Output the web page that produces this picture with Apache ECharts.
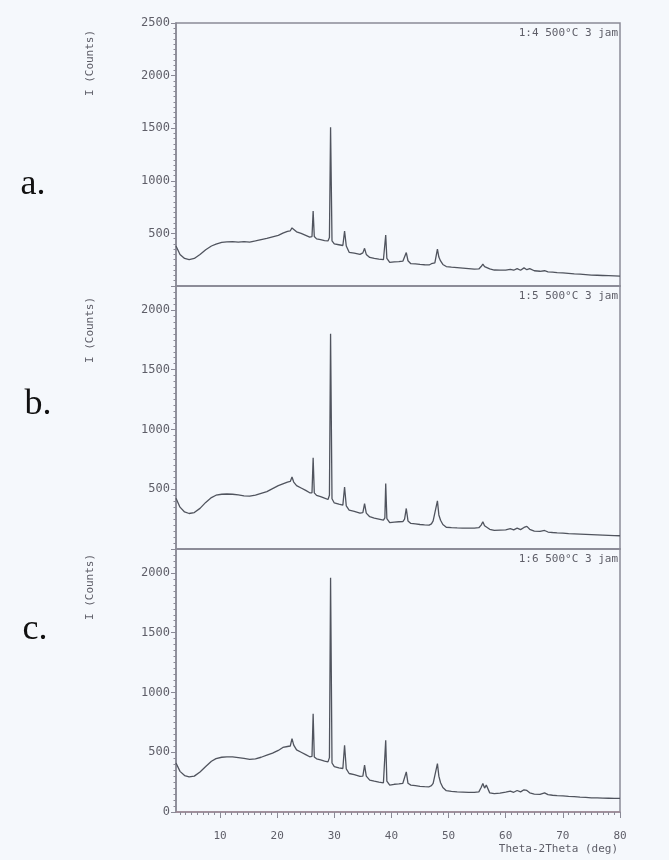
<!DOCTYPE html>
<html>
<head>
<meta charset="utf-8">
<script src="https://cdn.jsdelivr.net/npm/echarts@6/dist/echarts.min.js"></script>
<style>
  html, body { margin: 0; padding: 0; background: #f5f8fc; }
  #chart { width: 669px; height: 860px; }
</style>
</head>
<body>
<div id="chart"></div>
<script>
// 2-theta positions (deg) shared by the three diffractograms
const twoTheta = [
  2.3, 3.0, 3.8, 4.6, 5.5, 6.5, 7.5, 8.5, 9.3, 10.3,
  11.2, 12.2, 13.2, 14.2, 15.2, 16.2, 17.2, 18.2, 19.2, 20.2,
  21.0, 21.8, 22.3, 22.6, 22.9, 23.4, 24.2, 25.0, 25.7, 26.1,
  26.3, 26.5, 26.9, 27.6, 28.3, 28.9, 29.15, 29.35, 29.6, 30.0,
  30.8, 31.5, 31.8, 32.1, 32.6, 33.5, 34.5, 35.0, 35.3, 35.6,
  36.2, 37.0, 37.8, 38.6, 38.85, 39.0, 39.2, 39.7, 40.5, 41.3,
  42.0, 42.3, 42.6, 42.9, 43.4, 44.2, 45.0, 45.8, 46.6, 47.0,
  47.3, 47.6, 48.05, 48.3, 48.6, 49.0, 49.6, 50.5, 51.5, 52.5,
  53.5, 54.5, 55.3, 55.7, 56.0, 56.3, 56.6, 57.2, 58.0, 59.0,
  60.0, 60.8, 61.4, 62.0, 62.6, 63.2, 63.7, 64.2, 65.0, 66.0,
  66.8, 67.4, 68.2, 69.0, 70.0, 71.0, 72.0, 73.0, 74.0, 75.0,
  76.0, 77.0, 78.0, 79.0, 80.0
];

// Intensity (counts), sample 1:4
const counts14 = [
  380, 300, 262, 250, 262, 300, 345, 380, 398, 415,
  420, 422, 418, 422, 418, 428, 440, 452, 468, 482,
  502, 520, 525, 552, 540, 515, 500, 482, 465, 470,
  712, 470, 448, 440, 432, 428, 460, 1510, 430, 400,
  392, 385, 522, 380, 320, 312, 300, 315, 358, 300,
  272, 262, 255, 250, 262, 485, 262, 224, 230, 232,
  236, 250, 318, 240, 212, 210, 205, 202, 200, 212,
  228, 220, 350, 275, 238, 205, 185, 180, 175, 170,
  165, 160, 162, 185, 208, 185, 200, 162, 152, 150,
  150, 158, 150, 165, 150, 172, 155, 165, 145, 140,
  145, 135, 132, 128, 125, 120, 115, 112, 108, 104,
  102, 100, 98, 96, 94
];

// Intensity (counts), sample 1:5
const counts15 = [
  425, 350, 310, 297, 305, 340, 390, 430, 450, 458,
  460, 458, 452, 445, 442, 450, 465, 480, 505, 530,
  545, 560, 565, 602, 560, 530, 510, 490, 470, 470,
  764, 470, 448, 438, 425, 414, 450, 1800, 420, 385,
  375, 367, 519, 360, 325, 315, 300, 305, 380, 300,
  270, 258, 250, 242, 260, 547, 255, 220, 225, 228,
  230, 250, 339, 235, 214, 210, 205, 202, 200, 210,
  235, 225, 403, 285, 240, 205, 182, 178, 176, 175,
  174, 175, 178, 200, 228, 195, 205, 165, 155, 158,
  160, 170, 160, 175, 162, 180, 189, 165, 150, 147,
  155, 142, 138, 135, 132, 128, 126, 124, 122, 120,
  118, 116, 114, 112, 111
];

// Intensity (counts), sample 1:6
const counts16 = [
  410, 340, 305, 294, 300, 335, 380, 425, 447, 458,
  461, 461, 455, 448, 440, 445, 458, 475, 492, 515,
  540, 548, 552, 614, 560, 520, 500, 480, 462, 465,
  822, 460, 445, 435, 425, 419, 455, 1960, 410, 380,
  370, 364, 558, 360, 322, 312, 298, 300, 392, 300,
  267, 258, 250, 244, 258, 600, 258, 225, 232, 236,
  240, 255, 336, 240, 225, 220, 215, 212, 211, 220,
  240, 230, 405, 300, 245, 205, 178, 172, 168, 166,
  164, 164, 168, 205, 239, 200, 225, 160, 153, 158,
  167, 175, 165, 180, 168, 186, 180, 160, 150, 147,
  160, 145, 140, 137, 135, 130, 128, 124, 122, 118,
  118, 116, 115, 114, 114
];

const seriesCounts = [counts14, counts15, counts16];
const sampleLabels = ['1:4 500°C 3 jam', '1:5 500°C 3 jam', '1:6 500°C 3 jam'];
const panelLetters = ['a.', 'b.', 'c.'];
const yMaxValues = [2500, 2200, 2200];
const xTickValues = [10, 20, 30, 40, 50, 60, 70, 80];
const xAxisTitle = 'Theta-2Theta (deg)';
const yAxisTitle = 'I (Counts)';

const X_MIN = 2.3, X_MAX = 80;
const minorX = [];
for (let d = 3; d <= 80; d++) minorX.push(d);

const frameColor = '#8a8a96';
const textColor = '#5e5e68';
const mono = 'DejaVu Sans Mono';
const plain = v => String(v);

const panelTops = [23, 286, 549];
const panelHeight = 263;
const plotLeft = 176, plotWidth = 444;

const grids = [], xAxes = [], yAxes = [], series = [], graphics = [];

panelTops.forEach((top, i) => {
  const last = i === panelTops.length - 1;
  grids.push({
    left: plotLeft, top: top, width: plotWidth, height: panelHeight,
    show: true, borderColor: frameColor, borderWidth: 1.5,
    backgroundColor: 'transparent'
  });
  xAxes.push({
    type: 'value', gridIndex: i, min: X_MIN, max: X_MAX,
    axisLine: { show: true, onZero: false,
                lineStyle: { color: last ? '#a08a96' : frameColor, width: 1.5 } },
    axisTick: last
      ? { show: true, customValues: minorX, length: 3, lineStyle: { color: frameColor } }
      : { show: false },
    axisLabel: last
      ? { show: true, customValues: xTickValues, margin: 19, formatter: plain,
          fontFamily: mono, fontSize: 11, color: textColor }
      : { show: false },
    splitLine: { show: false }
  });
  yAxes.push({
    type: 'value', gridIndex: i, min: 0, max: yMaxValues[i], interval: 500,
    axisLine: { show: true, lineStyle: { color: frameColor, width: 1.5 } },
    axisTick: { show: true, length: 5, lineStyle: { color: frameColor } },
    minorTick: { show: true, splitNumber: 10, length: 2.5, lineStyle: { color: frameColor } },
    axisLabel: {
      margin: 6, formatter: plain, fontFamily: mono, fontSize: 12, color: textColor,
      showMinLabel: last, showMaxLabel: i === 0
    },
    splitLine: { show: false }
  });
  series.push({
    type: 'line', xAxisIndex: i, yAxisIndex: i,
    data: twoTheta.map((t, k) => [t, seriesCounts[i][k]]),
    showSymbol: false, smooth: false, silent: true,
    lineStyle: { color: '#50545e', width: 1.3 }
  });

  // sample caption in the upper-right corner of each panel
  graphics.push({
    type: 'text', x: plotLeft + plotWidth - 2, y: top + 10,
    style: { text: sampleLabels[i], fill: textColor, font: '11px "' + mono + '"',
             textAlign: 'right', textVerticalAlign: 'middle' }
  });
  // vertical intensity label
  graphics.push({
    type: 'text', x: 90, y: top + [40, 44, 38][i], rotation: Math.PI / 2,
    style: { text: yAxisTitle, fill: textColor, font: '11px "' + mono + '"',
             textAlign: 'center', textVerticalAlign: 'middle' }
  });
});

// major ticks every 10 degrees on the bottom axis
xAxes.push({
  type: 'value', gridIndex: 2, min: X_MIN, max: X_MAX, position: 'bottom',
  axisLine: { show: false },
  axisTick: { show: true, customValues: xTickValues, length: 6, lineStyle: { color: frameColor } },
  axisLabel: { show: false },
  splitLine: { show: false }
});

// panel letters
[[33, 185], [38, 405], [35, 630]].forEach((p, i) => {
  graphics.push({
    type: 'text', x: p[0], y: p[1],
    style: { text: panelLetters[i], fill: '#111', font: '36px "Liberation Serif"',
             textAlign: 'center', textVerticalAlign: 'middle' }
  });
});

// horizontal axis title
graphics.push({
  type: 'text', x: plotLeft + plotWidth - 2, y: 849,
  style: { text: xAxisTitle, fill: textColor, font: '11px "' + mono + '"',
           textAlign: 'right', textVerticalAlign: 'middle' }
});

const chart = echarts.init(document.getElementById('chart'), null, { renderer: 'canvas' });
chart.setOption({
  backgroundColor: '#f5f8fc',
  animation: false,
  grid: grids,
  xAxis: xAxes,
  yAxis: yAxes,
  series: series,
  graphic: graphics
});
</script>
</body>
</html>
